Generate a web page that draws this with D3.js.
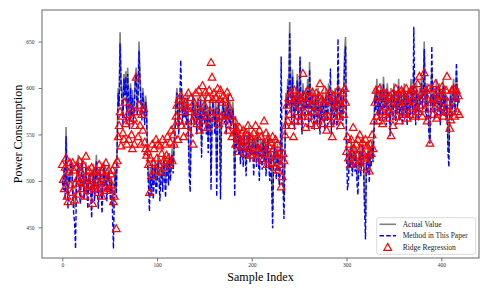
<!DOCTYPE html>
<html>
<head>
<meta charset="utf-8">
<script src="https://cdn.jsdelivr.net/npm/d3@7"></script>
<style>
  body { margin: 0; background: #fff; }
  text { font-family: "Liberation Serif", "Times New Roman", serif; }
</style>
</head>
<body>
<div id="chart"></div>
<script>
// actual power consumption, one value per sample (0..419)
var actualValue = [
  505, 498, 512, 495, 558, 500, 485, 510, 502, 515,
  520, 495, 480, 470, 478, 505, 515, 528, 498, 488,
  510, 525, 505, 492, 500, 520, 498, 485, 505, 512,
  495, 478, 502, 518, 490, 505, 528, 500, 486, 508,
  515, 495, 480, 505, 520, 498, 510, 490, 502, 515,
  500, 488, 505, 478, 470, 498, 515, 490, 548, 600,
  585, 660, 610, 595, 570, 615, 600, 618, 575, 622,
  590, 565, 605, 580, 598, 570, 585, 612, 622, 578,
  598, 650, 615, 590, 575, 600, 585, 570, 592, 578,
  530, 505, 490, 515, 500, 525, 495, 510, 522, 498,
  505, 528, 515, 492, 510, 520, 500, 530, 512, 495,
  518, 525, 505, 530, 510, 522, 535, 515, 540, 560,
  585, 600, 575, 560, 590, 582, 600, 570, 590, 575,
  585, 568, 595, 560, 525, 505, 565, 580, 595, 570,
  585, 575, 560, 590, 578, 565, 592, 540, 575, 585,
  570, 595, 560, 580, 545, 575, 588, 510, 565, 590,
  578, 560, 585, 505, 570, 590, 575, 500, 565, 580,
  590, 570, 582, 560, 578, 595, 570, 585, 565, 575,
  585, 560, 505, 570, 548, 560, 540, 555, 530, 548,
  545, 528, 555, 540, 520, 550, 538, 560, 530, 545,
  535, 552, 520, 540, 548, 528, 555, 535, 515, 545,
  538, 525, 550, 530, 545, 520, 538, 552, 528, 515,
  535, 510, 470, 530, 545, 522, 515, 540, 528, 510,
  525, 560, 535, 505, 480, 540, 595, 580, 610, 590,
  671, 600, 575, 620, 590, 565, 600, 585, 615, 570,
  595, 632, 580, 560, 605, 590, 575, 600, 585, 610,
  565, 628, 590, 575, 600, 580, 565, 595, 585, 570,
  600, 578, 560, 590, 575, 595, 580, 565, 600, 585,
  570, 605, 590, 575, 560, 598, 585, 570, 600, 580,
  565, 620, 590, 575, 600, 585, 570, 595, 640, 655,
  540, 520, 510, 535, 525, 545, 515, 530, 540, 520,
  535, 510, 500, 525, 540, 518, 530, 545, 525, 480,
  460, 530, 520, 540, 510, 535, 525, 545, 530, 560,
  600, 585, 610, 580, 595, 570, 605, 590, 575, 612,
  585, 598, 570, 605, 590, 580, 560, 600, 585, 575,
  605, 590, 570, 595, 582, 610, 575, 590, 600, 570,
  585, 605, 578, 595, 570, 600, 588, 575, 610, 590,
  580, 620, 595, 570, 605, 585, 575, 600, 590, 612,
  585, 600, 650, 590, 575, 605, 580, 560, 545, 590,
  620, 585, 600, 575, 595, 610, 580, 590, 605, 570,
  595, 585, 610, 580, 600, 575, 590, 545, 530, 585,
  600, 575, 595, 610, 580, 590, 620, 585, 600, 590
];

// prediction of the proposed method
var methodValue = [
  500, 490, 515, 480, 548, 495, 470, 505, 498, 520,
  515, 485, 465, 455, 427, 500, 512, 520, 490, 475,
  505, 520, 498, 480, 495, 515, 490, 470, 500, 508,
  488, 460, 498, 512, 478, 500, 522, 492, 470, 505,
  510, 488, 465, 500, 515, 490, 505, 478, 498, 510,
  495, 475, 500, 465, 427, 490, 510, 482, 540, 595,
  580, 648, 600, 588, 560, 610, 592, 612, 565, 615,
  582, 555, 600, 570, 590, 560, 578, 605, 615, 570,
  590, 640, 608, 582, 565, 595, 578, 560, 585, 570,
  520, 495, 467, 505, 485, 518, 480, 500, 515, 485,
  495, 520, 505, 478, 500, 512, 488, 522, 505, 482,
  510, 518, 495, 525, 500, 515, 528, 508, 535, 555,
  580, 595, 568, 550, 585, 630, 592, 562, 585, 568,
  578, 560, 590, 550, 505, 488, 558, 572, 590, 562,
  578, 568, 550, 585, 570, 555, 588, 525, 568, 578,
  562, 590, 550, 572, 530, 568, 580, 490, 558, 585,
  570, 550, 578, 483, 562, 585, 568, 480, 558, 572,
  585, 562, 575, 550, 570, 590, 562, 578, 555, 568,
  578, 550, 483, 562, 535, 552, 528, 548, 518, 540,
  538, 515, 548, 530, 505, 542, 528, 552, 520, 538,
  528, 545, 505, 532, 540, 515, 548, 525, 500, 538,
  530, 512, 542, 520, 538, 505, 530, 545, 515, 500,
  528, 495, 449, 520, 538, 510, 502, 532, 518, 495,
  515, 634, 525, 490, 459, 530, 588, 570, 602, 582,
  660, 592, 565, 612, 580, 555, 592, 575, 608, 560,
  588, 634, 570, 550, 598, 582, 565, 592, 578, 602,
  555, 620, 582, 565, 592, 570, 555, 588, 575, 560,
  592, 568, 550, 582, 565, 588, 570, 555, 592, 575,
  560, 598, 582, 621, 550, 590, 575, 560, 592, 570,
  555, 653, 582, 565, 592, 575, 560, 588, 630, 645,
  530, 490, 500, 528, 515, 538, 505, 522, 532, 510,
  528, 498, 485, 515, 532, 505, 520, 538, 515, 470,
  437, 520, 508, 532, 498, 528, 515, 538, 520, 552,
  592, 575, 602, 570, 588, 560, 598, 582, 565, 605,
  578, 590, 560, 598, 582, 570, 548, 592, 578, 565,
  598, 582, 560, 588, 572, 602, 565, 582, 592, 560,
  578, 598, 568, 588, 560, 592, 580, 565, 602, 582,
  572, 666, 588, 560, 598, 578, 565, 592, 582, 605,
  578, 592, 642, 582, 565, 598, 570, 550, 540, 582,
  645, 578, 592, 565, 588, 602, 570, 582, 598, 560,
  588, 575, 602, 570, 592, 565, 582, 532, 515, 578,
  592, 565, 588, 602, 570, 582, 627, 578, 592, 582
];

// ridge regression prediction
var ridgeValue = [
  518, 502, 492, 515, 525, 484, 478, 510, 520, 496,
  488, 520, 512, 480, 498, 515, 503, 486, 522, 500,
  510, 492, 518, 498, 484, 527, 505, 490, 512, 496,
  503, 515, 476, 495, 510, 492, 512, 500, 488, 518,
  498, 510, 484, 515, 506, 494, 520, 490, 504, 512,
  492, 508, 496, 512, 478, 484, 518, 449, 522, 548,
  560, 575, 538, 570, 552, 545, 585, 562, 540, 572,
  545, 565, 578, 550, 535, 568, 540, 560, 612, 575,
  548, 582, 560, 540, 572, 555, 578, 542, 535, 528,
  532, 518, 488, 525, 506, 540, 520, 535, 512, 545,
  525, 540, 518, 538, 510, 530, 545, 522, 515, 540,
  528, 548, 525, 518, 542, 555, 522, 550, 540, 560,
  570, 582, 545, 588, 565, 592, 560, 575, 548, 582,
  585, 560, 578, 595, 552, 575, 590, 565, 540, 585,
  570, 595, 562, 580, 598, 555, 575, 590, 603, 565,
  582, 596, 570, 558, 590, 598, 575, 628, 612, 588,
  595, 568, 590, 575, 600, 562, 588, 598, 570, 585,
  592, 565, 588, 572, 596, 555, 580, 590, 570, 548,
  560, 552, 565, 540, 556, 548, 532, 558, 545, 538,
  542, 555, 548, 530, 552, 538, 560, 535, 548, 528,
  545, 528, 552, 538, 560, 525, 548, 535, 555, 532,
  548, 522, 540, 565, 530, 552, 518, 545, 538, 528,
  542, 520, 548, 535, 515, 545, 528, 540, 512, 530,
  518, 494, 505, 530, 522, 550, 560, 582, 565, 590,
  572, 595, 560, 585, 548, 598, 565, 588, 575, 592,
  582, 565, 590, 570, 616, 592, 575, 558, 585, 598,
  570, 590, 562, 582, 596, 575, 588, 560, 595, 580,
  565, 592, 605, 575, 588, 562, 585, 598, 570, 555,
  588, 570, 595, 562, 585, 548, 592, 575, 582, 565,
  585, 598, 570, 590, 560, 582, 595, 572, 600, 585,
  532, 548, 525, 540, 518, 545, 530, 558, 535, 522,
  540, 528, 545, 520, 550, 535, 515, 542, 530, 525,
  545, 522, 538, 528, 511, 540, 530, 550, 535, 565,
  585, 598, 570, 592, 565, 600, 575, 590, 562, 595,
  580, 572, 595, 568, 585, 575, 592, 549, 588, 560,
  578, 592, 600, 570, 585, 595, 565, 582, 598, 572,
  595, 575, 588, 600, 568, 585, 592, 572, 598, 580,
  588, 600, 570, 592, 578, 605, 575, 613, 582, 595,
  570, 592, 617, 578, 598, 565, 588, 600, 541, 585,
  600, 572, 590, 580, 605, 568, 588, 598, 575, 592,
  580, 602, 570, 592, 575, 598, 613, 585, 575, 557,
  566, 598, 578, 600, 570, 590, 598, 575, 592, 572
];

var xTicks = [0, 100, 200, 300, 400];
var yTicks = [450, 500, 550, 600, 650];
var legendLabels = ["Actual Value", "Method in This Paper", "Ridge Regression"];

var width = 492, height = 291;
var plotLeft = 42, plotRight = 479, plotTop = 10, plotBottom = 258;

var svg = d3.select("#chart").append("svg")
  .attr("width", width)
  .attr("height", height);

var x = d3.scaleLinear().domain([-21.4, 439.8]).range([plotLeft, plotRight]);
var y = d3.scaleLinear().domain([417, 684]).range([plotBottom, plotTop]);

svg.append("clipPath").attr("id", "clip")
  .append("rect")
  .attr("x", plotLeft).attr("y", plotTop)
  .attr("width", plotRight - plotLeft).attr("height", plotBottom - plotTop);

var plot = svg.append("g").attr("clip-path", "url(#clip)");

var line = d3.line()
  .x(function(d, i) { return x(i); })
  .y(function(d) { return y(d); });

plot.append("path")
  .datum(actualValue)
  .attr("d", line)
  .attr("fill", "none")
  .attr("stroke", "#808080")
  .attr("stroke-width", 1.6);

plot.append("path")
  .datum(methodValue)
  .attr("d", line)
  .attr("fill", "none")
  .attr("stroke", "#0000ff")
  .attr("stroke-width", 1.4)
  .attr("stroke-dasharray", "4.5,2.2");

var tri = "M0,-3.6L3.8,3.3L-3.8,3.3Z";

plot.selectAll(".ridge")
  .data(ridgeValue)
  .enter().append("path")
    .attr("class", "ridge")
    .attr("d", tri)
    .attr("transform", function(d, i) { return "translate(" + x(i) + "," + y(d) + ")"; })
    .attr("fill", "none")
    .attr("stroke", "#ff0000")
    .attr("stroke-width", 1.2);

// axes
var xAxis = svg.append("g")
  .attr("transform", "translate(0," + plotBottom + ")")
  .call(d3.axisBottom(x).tickValues(xTicks).tickSize(3.5).tickPadding(2));
var yAxis = svg.append("g")
  .attr("transform", "translate(" + plotLeft + ",0)")
  .call(d3.axisLeft(y).tickValues(yTicks).tickSize(3.5).tickPadding(4));

[xAxis, yAxis].forEach(function(a) {
  a.select(".domain").remove();
  a.selectAll("line").attr("stroke", "#555").attr("stroke-width", 0.8);
  a.selectAll("text")
    .attr("fill", "#333")
    .style("font-size", "5.5px")
    .style("font-family", "'Liberation Serif', serif");
});

svg.append("rect")
  .attr("x", plotLeft).attr("y", plotTop)
  .attr("width", plotRight - plotLeft).attr("height", plotBottom - plotTop)
  .attr("fill", "none")
  .attr("stroke", "#666")
  .attr("stroke-width", 1);

svg.append("text")
  .attr("x", (plotLeft + plotRight) / 2)
  .attr("y", 280.5)
  .attr("text-anchor", "middle")
  .style("font-size", "12px")
  .text("Sample Index");

svg.append("text")
  .attr("transform", "translate(18," + (plotTop + plotBottom) / 2 + ") rotate(-90)")
  .attr("text-anchor", "middle")
  .attr("dy", "0.35em")
  .style("font-size", "12px")
  .text("Power Consumption");

// legend
var lg = svg.append("g");
lg.append("rect")
  .attr("x", 376.7).attr("y", 217.7)
  .attr("width", 99).attr("height", 36.6)
  .attr("rx", 2)
  .attr("fill", "#fff").attr("fill-opacity", 0.8)
  .attr("stroke", "#d0d0d0").attr("stroke-width", 0.8);

var rowY = [224.3, 235.7, 247];
lg.append("line")
  .attr("x1", 379.5).attr("x2", 396).attr("y1", rowY[0]).attr("y2", rowY[0])
  .attr("stroke", "#808080").attr("stroke-width", 1.6);
lg.append("line")
  .attr("x1", 379.5).attr("x2", 396).attr("y1", rowY[1]).attr("y2", rowY[1])
  .attr("stroke", "#0000ff").attr("stroke-width", 1.4)
  .attr("stroke-dasharray", "4.5,2.2");
lg.append("path")
  .attr("d", tri)
  .attr("transform", "translate(387.7," + rowY[2] + ")")
  .attr("fill", "none").attr("stroke", "#ff0000").attr("stroke-width", 1.2);

lg.selectAll(".lbl")
  .data(legendLabels)
  .enter().append("text")
    .attr("class", "lbl")
    .attr("x", 402.7)
    .attr("y", function(d, i) { return rowY[i]; })
    .attr("dy", "0.35em")
    .attr("fill", "#222")
    .style("font-size", "7.5px")
    .text(function(d) { return d; });
</script>
</body>
</html>
